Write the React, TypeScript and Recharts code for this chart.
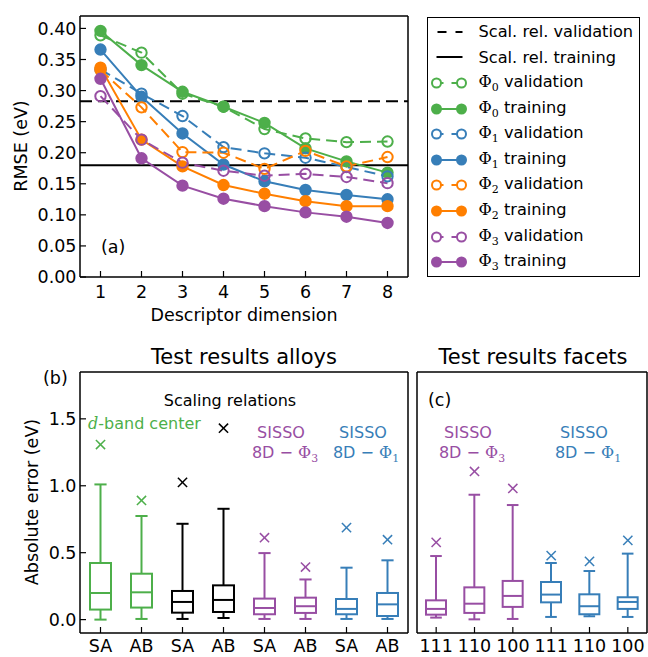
// RMSE vs descriptor dimension (a) + absolute-error box plots (b, c) — Recharts ComposedChart.
import {
  ComposedChart,
  Line,
  Bar,
  Scatter,
  XAxis,
  YAxis,
  ReferenceLine,
  Legend,
} from "recharts";

// ---- panel (a) data ----
const DIMS = [1, 2, 3, 4, 5, 6, 7, 8];
const PHI0_VAL = [0.389, 0.361, 0.295, 0.274, 0.238, 0.223, 0.217, 0.218];
const PHI0_TRAIN = [0.396, 0.341, 0.298, 0.274, 0.248, 0.207, 0.186, 0.168];
const PHI1_VAL = [0.334, 0.295, 0.259, 0.209, 0.199, 0.192, 0.177, 0.162];
const PHI1_TRAIN = [0.366, 0.29, 0.231, 0.181, 0.154, 0.14, 0.132, 0.125];
const PHI2_VAL = [0.333, 0.273, 0.201, 0.2, 0.174, 0.203, 0.178, 0.193];
const PHI2_TRAIN = [0.337, 0.221, 0.178, 0.148, 0.134, 0.122, 0.114, 0.114];
const PHI3_VAL = [0.291, 0.221, 0.184, 0.171, 0.163, 0.166, 0.161, 0.151];
const PHI3_TRAIN = [0.319, 0.191, 0.147, 0.126, 0.114, 0.104, 0.097, 0.087];
const SCAL_REL_VAL = 0.283;
const SCAL_REL_TRAIN = 0.18;
const RMSE_TICKS = [0, 0.05, 0.1, 0.15, 0.2, 0.25, 0.3, 0.35, 0.4];

// ---- panel (b) data: test results alloys ----
const ALLOY_CATS = ["SA", "AB", "SA", "AB", "SA", "AB", "SA", "AB"];
const ALLOY_LOW = [0.0, 0.005, 0.005, 0.012, 0.005, 0.005, 0.005, 0.005];
const ALLOY_Q1 = [0.075, 0.09, 0.052, 0.057, 0.04, 0.05, 0.04, 0.027];
const ALLOY_MED = [0.199, 0.204, 0.132, 0.147, 0.087, 0.1, 0.08, 0.114];
const ALLOY_Q3 = [0.423, 0.343, 0.214, 0.256, 0.157, 0.164, 0.154, 0.199];
const ALLOY_HIGH = [1.01, 0.774, 0.716, 0.828, 0.497, 0.3, 0.388, 0.443];
const ALLOY_MAX = [1.308, 0.89, 1.025, 1.43, 0.612, 0.393, 0.687, 0.597];

// ---- panel (c) data: test results facets ----
const FACET_CATS = ["111", "110", "100", "111", "110", "100"];
const FACET_LOW = [0.015, 0.002, 0.005, 0.02, 0.025, 0.02];
const FACET_Q1 = [0.037, 0.05, 0.095, 0.129, 0.04, 0.08];
const FACET_MED = [0.08, 0.119, 0.177, 0.187, 0.1, 0.132];
const FACET_Q3 = [0.144, 0.241, 0.289, 0.281, 0.189, 0.167];
const FACET_HIGH = [0.475, 0.933, 0.856, 0.423, 0.363, 0.493];
const FACET_MAX = [0.577, 1.107, 0.98, 0.478, 0.435, 0.592];
const ERR_TICKS = [0, 0.5, 1.0, 1.5];

// ---- styles ----
const FONT = "'DejaVu Sans', sans-serif";
const SERIF = "'DejaVu Serif', serif";
const GREEN = "#4daf4a";
const BLUE = "#377eb8";
const ORANGE = "#ff7f00";
const PURPLE = "#984ea3";
const ALLOY_COLORS = [GREEN, GREEN, "#000", "#000", PURPLE, PURPLE, BLUE, BLUE];
const FACET_COLORS = [PURPLE, PURPLE, PURPLE, BLUE, BLUE, BLUE];
const TICK = { fontSize: 17.5, fill: "#000", fontFamily: FONT };
const AXIS_LINE = { stroke: "#000", strokeWidth: 1.5 };
const TICK_LINE = { stroke: "#000", strokeWidth: 1.2 };
const DASH = "11 6";

const rmseData = DIMS.map((dim, i) => ({
  dim,
  p0v: PHI0_VAL[i],
  p0t: PHI0_TRAIN[i],
  p1v: PHI1_VAL[i],
  p1t: PHI1_TRAIN[i],
  p2v: PHI2_VAL[i],
  p2t: PHI2_TRAIN[i],
  p3v: PHI3_VAL[i],
  p3t: PHI3_TRAIN[i],
}));

const RMSE_SERIES = [
  { key: "p0v", phi: "0", kind: "validation", color: GREEN },
  { key: "p0t", phi: "0", kind: "training", color: GREEN },
  { key: "p1v", phi: "1", kind: "validation", color: BLUE },
  { key: "p1t", phi: "1", kind: "training", color: BLUE },
  { key: "p2v", phi: "2", kind: "validation", color: ORANGE },
  { key: "p2t", phi: "2", kind: "training", color: ORANGE },
  { key: "p3v", phi: "3", kind: "validation", color: PURPLE },
  { key: "p3t", phi: "3", kind: "training", color: PURPLE },
];

function boxRows(low: number[], q1: number[], med: number[], q3: number[], high: number[], max: number[]) {
  return low.map((l, i) => ({
    idx: i,
    low: l,
    q1: q1[i],
    med: med[i],
    q3: q3[i],
    high: high[i],
    max: max[i],
    range: [l, high[i]],
  }));
}

const alloyData = boxRows(ALLOY_LOW, ALLOY_Q1, ALLOY_MED, ALLOY_Q3, ALLOY_HIGH, ALLOY_MAX);
const facetData = boxRows(FACET_LOW, FACET_Q1, FACET_MED, FACET_Q3, FACET_HIGH, FACET_MAX);

// whisker bar [low, high] drawn by the library; box edges interpolated on the same linear scale
function BoxShape(props: any) {
  const { x, y, width, height, payload, color } = props;
  if (payload == null) return null;
  const top = Math.min(y, y + height);
  const span = Math.abs(height);
  const py = (v: number) => top + (span * (payload.high - v)) / (payload.high - payload.low);
  const cx = x + width / 2;
  const cap = width * 0.29;
  return (
    <g stroke={color} strokeWidth={2} fill="none">
      <line x1={cx} x2={cx} y1={py(payload.high)} y2={py(payload.q3)} />
      <line x1={cx} x2={cx} y1={py(payload.q1)} y2={py(payload.low)} />
      <line x1={cx - cap} x2={cx + cap} y1={py(payload.high)} y2={py(payload.high)} />
      <line x1={cx - cap} x2={cx + cap} y1={py(payload.low)} y2={py(payload.low)} />
      <rect x={x} y={py(payload.q3)} width={width} height={py(payload.q1) - py(payload.q3)} fill="#fff" />
      <line x1={x} x2={x + width} y1={py(payload.med)} y2={py(payload.med)} />
    </g>
  );
}

function CrossMark(props: any) {
  const { cx, cy, color } = props;
  const s = 4.6;
  return (
    <g stroke={color} strokeWidth={1.5}>
      <line x1={cx - s} x2={cx + s} y1={cy - s} y2={cy + s} />
      <line x1={cx - s} x2={cx + s} y1={cy + s} y2={cy - s} />
    </g>
  );
}

function Phi({ n, size }: { n: string; size: number }) {
  return (
    <>
      <tspan fontFamily={SERIF}>Φ</tspan>
      <tspan fontFamily={SERIF} fontSize={size * 0.68} dy={size * 0.28}>
        {n}
      </tspan>
    </>
  );
}

function LegendSample({ kind, color }: { kind: string; color: string }) {
  if (kind === "scalVal")
    return <line x1={9.5} x2={34.5} y1={8} y2={8} stroke="#000" strokeWidth={2} strokeDasharray="9 9" />;
  if (kind === "scalTrain") return <line x1={8.5} x2={34.5} y1={8} y2={8} stroke="#000" strokeWidth={2} />;
  const open = kind === "validation";
  return (
    <g stroke={color} strokeWidth={2}>
      <line x1={8.5} x2={33.5} y1={8} y2={8} strokeDasharray={open ? "7 8" : undefined} />
      <circle cx={8.5} cy={8} r={4.5} fill={open ? "#fff" : color} />
      <circle cx={33.5} cy={8} r={4.5} fill={open ? "#fff" : color} />
    </g>
  );
}

function RmseLegend() {
  const rows = [
    { kind: "scalVal", color: "#000", label: "Scal. rel. validation", phi: null as string | null },
    { kind: "scalTrain", color: "#000", label: "Scal. rel. training", phi: null as string | null },
    ...RMSE_SERIES.map((s) => ({ kind: s.kind, color: s.color, label: " " + s.kind, phi: s.phi })),
  ];
  return (
    <div
      style={{
        boxSizing: "border-box",
        width: 213,
        height: 260,
        border: "1.5px solid #000",
        background: "#fff",
        paddingTop: 1,
        fontFamily: FONT,
        fontSize: 16.2,
        color: "#000",
      }}
    >
      {rows.map((r) => (
        <div key={r.label + r.color} style={{ display: "flex", alignItems: "center", height: 25.6 }}>
          <svg width={44} height={16} style={{ flex: "none" }}>
            <LegendSample kind={r.kind} color={r.color} />
          </svg>
          <span style={{ marginLeft: 6.5, whiteSpace: "nowrap" }}>
            {r.phi != null && (
              <span style={{ fontFamily: SERIF }}>
                Φ<sub style={{ fontSize: 11, verticalAlign: -4 }}>{r.phi}</sub>
              </span>
            )}
            {r.label}
          </span>
        </div>
      ))}
    </div>
  );
}

function RmseChart() {
  return (
    <ComposedChart width={648} height={330} data={rmseData} margin={{ top: 15, right: 239, bottom: 13, left: 20 }}>
      <XAxis
        dataKey="dim"
        type="number"
        domain={[0.5, 8.5]}
        ticks={DIMS}
        interval={0}
        tick={TICK}
        tickSize={-6}
        tickMargin={15}
        axisLine={AXIS_LINE}
        tickLine={TICK_LINE}
        height={40}
      />
      <XAxis xAxisId="top" dataKey="dim" orientation="top" type="number" domain={[0.5, 8.5]} ticks={DIMS} interval={0} tick={false} tickSize={-6} axisLine={AXIS_LINE} tickLine={TICK_LINE} height={1} />
      <YAxis
        type="number"
        domain={[0, 0.42]}
        ticks={RMSE_TICKS}
        interval={0}
        tick={TICK}
        tickFormatter={(v: number) => v.toFixed(2)}
        tickSize={-6}
        tickMargin={9.5}
        axisLine={AXIS_LINE}
        tickLine={TICK_LINE}
        width={60}
      />
      <YAxis yAxisId="right" orientation="right" type="number" domain={[0, 0.42]} ticks={RMSE_TICKS} interval={0} tick={false} tickSize={-6} axisLine={AXIS_LINE} tickLine={TICK_LINE} width={1} />
      <ReferenceLine y={SCAL_REL_VAL} stroke="#000" strokeWidth={2} strokeDasharray="12 6" />
      <ReferenceLine y={SCAL_REL_TRAIN} stroke="#000" strokeWidth={2} />
      {RMSE_SERIES.map((s) => {
        const open = s.kind === "validation";
        return (
          <Line
            key={s.key}
            type="linear"
            dataKey={s.key}
            stroke={s.color}
            strokeWidth={2}
            strokeDasharray={open ? DASH : undefined}
            dot={{ r: 5.2, fill: open ? "none" : s.color, stroke: s.color, strokeWidth: 2, strokeDasharray: "none" }}
            activeDot={false}
            isAnimationActive={false}
          />
        );
      })}
      <Legend
        layout="vertical"
        align="center"
        verticalAlign="middle"
        content={() => <RmseLegend />}
        wrapperStyle={{ left: 427, top: 17, width: 213, height: 260 }}
      />
      <text x={101} y={253} fontFamily={FONT} fontSize={17.5}>
        (a)
      </text>
      <text x={21} y={146} transform="rotate(-90 21 146)" textAnchor="middle" dominantBaseline="central" fontFamily={FONT} fontSize={17.5}>
        RMSE (eV)
      </text>
      <text x={244} y={321} textAnchor="middle" fontFamily={FONT} fontSize={17.5}>
        Descriptor dimension
      </text>
    </ComposedChart>
  );
}

function BoxPanel(props: any) {
  const { data, cats, colors, width, margin, leftWidth, showYLabels, barSize, children } = props;
  const n = cats.length;
  const idxTicks = cats.map((_: string, i: number) => i);
  return (
    <ComposedChart width={width} height={327} data={data} margin={margin}>
      <XAxis
        dataKey="idx"
        type="category"
        interval={0}
        tickFormatter={(v: number) => cats[v]}
        tick={TICK}
        tickSize={-6}
        tickMargin={13}
        axisLine={AXIS_LINE}
        tickLine={TICK_LINE}
        height={20}
      />
      <XAxis xAxisId="top" dataKey="idx" orientation="top" type="number" domain={[-0.5, n - 0.5]} ticks={idxTicks} interval={0} tick={false} tickSize={-6} axisLine={AXIS_LINE} tickLine={TICK_LINE} height={1} />
      <YAxis
        type="number"
        domain={[-0.1, 1.85]}
        ticks={ERR_TICKS}
        interval={0}
        tick={showYLabels ? TICK : false}
        tickFormatter={(v: number) => v.toFixed(1)}
        tickSize={-6}
        tickMargin={9.5}
        axisLine={AXIS_LINE}
        tickLine={TICK_LINE}
        width={leftWidth}
      />
      <YAxis yAxisId="right" orientation="right" type="number" domain={[-0.1, 1.85]} ticks={ERR_TICKS} interval={0} tick={false} tickSize={-6} axisLine={AXIS_LINE} tickLine={TICK_LINE} width={1} />
      <Bar
        dataKey="range"
        barSize={barSize}
        isAnimationActive={false}
        shape={(p: any) => <BoxShape {...p} color={colors[p.payload.idx]} />}
      />
      <Scatter
        dataKey="max"
        isAnimationActive={false}
        shape={(p: any) => <CrossMark {...p} color={colors[p.payload.idx]} />}
      />
      {children}
    </ComposedChart>
  );
}

export default function App() {
  return (
    <div style={{ position: "absolute", left: 0, top: 0, width: 648, height: 657, background: "#fff", fontFamily: FONT }}>
      <div style={{ position: "absolute", left: 0, top: 0 }}>
        <RmseChart />
      </div>
      <div style={{ position: "absolute", left: 0, top: 330 }}>
        <BoxPanel
          data={alloyData}
          cats={ALLOY_CATS}
          colors={ALLOY_COLORS}
          width={410}
          margin={{ top: 41, right: 1, bottom: 4, left: 20 }}
          leftWidth={60}
          showYLabels
          barSize={21}
        >
          <text x={244} y={34} textAnchor="middle" fontFamily={FONT} fontSize={21}>
            Test results alloys
          </text>
          <text x={43} y={54} fontFamily={FONT} fontSize={17.5}>
            (b)
          </text>
          <text x={31.5} y={172} transform="rotate(-90 31.5 172)" textAnchor="middle" dominantBaseline="central" fontFamily={FONT} fontSize={17.5}>
            Absolute error (eV)
          </text>
          <text x={230} y={76} textAnchor="middle" fontFamily={FONT} fontSize={16}>
            Scaling relations
          </text>
          <text x={88} y={99} fontFamily={FONT} fontSize={16} fill={GREEN}>
            <tspan fontFamily={SERIF} fontStyle="italic">d</tspan>-band center
          </text>
          <text x={281} y={107.5} textAnchor="middle" fontFamily={FONT} fontSize={16} fill={PURPLE}>
            SISSO
          </text>
          <text x={285} y={128} textAnchor="middle" fontFamily={FONT} fontSize={16} fill={PURPLE}>
            8D − <Phi n="3" size={16} />
          </text>
          <text x={363} y={107.5} textAnchor="middle" fontFamily={FONT} fontSize={16} fill={BLUE}>
            SISSO
          </text>
          <text x={366} y={128} textAnchor="middle" fontFamily={FONT} fontSize={16} fill={BLUE}>
            8D − <Phi n="1" size={16} />
          </text>
        </BoxPanel>
      </div>
      <div style={{ position: "absolute", left: 410, top: 330 }}>
        <BoxPanel
          data={facetData}
          cats={FACET_CATS}
          colors={FACET_COLORS}
          width={238}
          margin={{ top: 41, right: 0, bottom: 4, left: 6 }}
          leftWidth={1}
          showYLabels={false}
          barSize={20}
        >
          <text x={123} y={34} textAnchor="middle" fontFamily={FONT} fontSize={21}>
            Test results facets
          </text>
          <text x={18} y={76} fontFamily={FONT} fontSize={17.5}>
            (c)
          </text>
          <text x={58} y={107.5} textAnchor="middle" fontFamily={FONT} fontSize={16} fill={PURPLE}>
            SISSO
          </text>
          <text x={62} y={128} textAnchor="middle" fontFamily={FONT} fontSize={16} fill={PURPLE}>
            8D − <Phi n="3" size={16} />
          </text>
          <text x={174} y={107.5} textAnchor="middle" fontFamily={FONT} fontSize={16} fill={BLUE}>
            SISSO
          </text>
          <text x={178} y={128} textAnchor="middle" fontFamily={FONT} fontSize={16} fill={BLUE}>
            8D − <Phi n="1" size={16} />
          </text>
        </BoxPanel>
      </div>
    </div>
  );
}
